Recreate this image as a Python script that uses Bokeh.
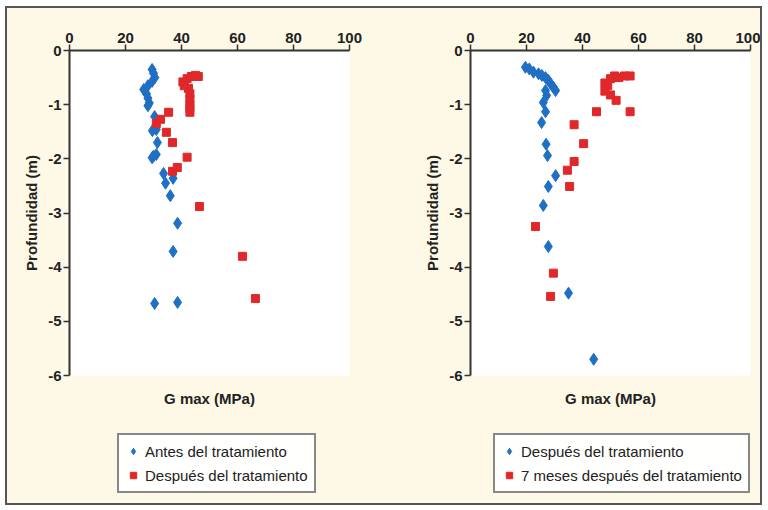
from bokeh.plotting import figure
from bokeh.layouts import row, column
from bokeh.models import Legend, LegendItem, Title, FixedTicker, CustomJSTickFormatter
from bokeh.embed import file_html
from bokeh.resources import INLINE

# Left panel
antes_x = [29.5, 30.0, 30.5, 29.5, 28.0, 26.5, 27.5, 28.0, 28.5, 28.0,
           30.4, 29.6, 31.0, 31.4, 30.0, 31.0, 29.5, 33.6, 37.0, 34.3, 36.0,
           38.6, 37.0, 30.4, 38.6]
antes_y = [-0.35, -0.42, -0.50, -0.57, -0.65, -0.72, -0.80, -0.88, -0.97, -1.02,
           -1.22, -1.48, -1.46, -1.70, -1.95, -1.92, -1.98, -2.27, -2.36, -2.45, -2.68,
           -3.19, -3.71, -4.67, -4.65]
despues1_x = [40.5, 42.0, 43.5, 45.0, 46.0, 41.0, 42.5, 43.0, 43.0, 43.0, 43.0, 43.0,
              35.4, 32.5, 31.0, 34.6, 36.8, 42.0, 38.5, 36.8, 46.4, 61.8, 66.4]
despues1_y = [-0.58, -0.52, -0.48, -0.46, -0.48, -0.65, -0.70, -0.80, -0.90, -1.00, -1.07, -1.14,
              -1.14, -1.27, -1.35, -1.51, -1.70, -1.97, -2.16, -2.23, -2.88, -3.80, -4.58]

# Right panel
despues2_x = [19.6, 21.0, 22.5, 24.3, 25.5, 26.8, 27.8, 28.6, 29.6, 30.4, 26.8, 27.2,
              26.0, 26.8, 25.4, 27.0, 27.5, 30.4, 27.8, 26.0, 27.8, 35.0, 44.0]
despues2_y = [-0.31, -0.34, -0.40, -0.43, -0.46, -0.50, -0.55, -0.61, -0.68, -0.74, -0.74, -0.83,
              -0.96, -1.13, -1.33, -1.73, -1.94, -2.31, -2.51, -2.86, -3.62, -4.48, -5.70]
meses7_x = [48.0, 50.0, 51.5, 53.0, 55.0, 57.0, 49.0, 48.0, 50.0, 52.0, 45.0, 57.0,
            37.0, 40.4, 37.0, 34.6, 35.4, 23.2, 29.6, 28.6]
meses7_y = [-0.60, -0.52, -0.47, -0.50, -0.47, -0.47, -0.65, -0.75, -0.82, -0.92, -1.13, -1.13,
            -1.37, -1.72, -2.05, -2.21, -2.51, -3.25, -4.11, -4.54]

x_ticks = [0, 20, 40, 60, 80, 100]
y_ticks = [0, -1, -2, -3, -4, -5, -6]

BG = "#fdf9e6"
BLUE = "#1f6fc4"
RED = "#e0282a"
FONT = "Liberation Sans"
TXT = "#222222"


def make_panel(bx, by, rx, ry, width, border_left, border_right):
    p = figure(width=width, height=412, x_range=(0, 100), y_range=(-6, 0),
               x_axis_location="above", output_backend="svg", toolbar_location=None,
               min_border_left=border_left, min_border_right=border_right,
               min_border_top=42, min_border_bottom=45)
    p.background_fill_color = "white"
    p.border_fill_color = BG
    p.outline_line_color = None
    p.grid.visible = False
    for ax in (p.xaxis[0], p.yaxis[0]):
        ax.axis_line_color = "#333333"
        ax.axis_line_width = 2
        ax.major_tick_line_color = "#333333"
        ax.major_tick_line_width = 1.5
        ax.major_tick_out = 6
        ax.major_tick_in = 0
        ax.minor_tick_line_color = None
        ax.major_label_text_font = FONT
        ax.major_label_text_font_style = "bold"
        ax.major_label_text_font_size = "15px"
        ax.major_label_text_color = TXT
        ax.major_label_standoff = 2
        ax.formatter = CustomJSTickFormatter(code="return String(tick);")
    p.xaxis[0].ticker = FixedTicker(ticks=x_ticks)
    p.yaxis[0].ticker = FixedTicker(ticks=y_ticks)
    p.yaxis[0].axis_label = "Profundidad (m)"
    p.yaxis[0].axis_label_text_font = FONT
    p.yaxis[0].axis_label_text_font_style = "bold"
    p.yaxis[0].axis_label_text_font_size = "15px"
    p.yaxis[0].axis_label_text_color = TXT
    p.yaxis[0].axis_label_standoff = 5

    p.scatter(bx, by, marker="diamond", size=12, color=BLUE, line_color=BLUE)
    p.scatter(rx, ry, marker="square", size=8, color=RED, line_color=RED)

    t = Title(text="G max (MPa)", align="center", text_font=FONT, text_font_style="bold",
              text_font_size="15px", text_color=TXT, standoff=24)
    p.add_layout(t, "below")
    return p


def make_legend(width, blabel, rlabel, leg_x):
    # frame of this figure is aligned with the plot frame above it
    q = figure(width=width, height=83, x_range=(0, 1), y_range=(0, 1),
               output_backend="svg", toolbar_location=None,
               min_border_left=0, min_border_right=0, min_border_top=0, min_border_bottom=0)
    q.axis.visible = False
    q.grid.visible = False
    q.outline_line_color = None
    q.background_fill_color = BG
    q.border_fill_color = BG
    # legend-only renderers, placed outside the visible range
    r1 = q.scatter([5], [5], marker="diamond", size=11, color=BLUE, line_color=BLUE)
    r2 = q.scatter([5], [5], marker="square", size=8, color=RED, line_color=RED)
    leg = Legend(items=[LegendItem(label=blabel, renderers=[r1]),
                        LegendItem(label=rlabel, renderers=[r2])],
                 location=(leg_x, 10), orientation="vertical")
    leg.border_line_color = "#111111"
    leg.border_line_width = 2
    leg.background_fill_color = "white"
    leg.label_text_font = FONT
    leg.label_text_font_size = "15px"
    leg.label_text_color = TXT
    leg.padding = 6
    leg.spacing = 4
    leg.margin = 0
    leg.label_height = 20
    leg.glyph_height = 20
    leg.glyph_width = 16
    leg.label_standoff = 4
    q.add_layout(leg, "center")
    return q


p1 = make_panel(antes_x, antes_y, despues1_x, despues1_y, 375, 62, 33)
p2 = make_panel(despues2_x, despues2_y, meses7_x, meses7_y, 378, 88, 10)
l1 = make_legend(375, "Antes del tratamiento", "Después del tratamiento", 48)
l2 = make_legend(378, "Después del tratamiento", "7 meses después del tratamiento", 23)

layout = row(column(p1, l1), column(p2, l2),
             styles={"border": "2px solid #555555", "background-color": BG,
                     "margin-left": "5px", "margin-top": "6px"})
open("out.html", "w").write(file_html(layout, INLINE))
